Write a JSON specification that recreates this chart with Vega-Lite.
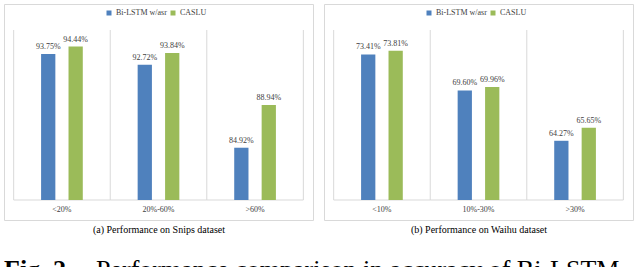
{
  "$schema": "https://vega.github.io/schema/vega-lite/v6.json",
  "padding": {"left": 3, "top": 3, "right": 0, "bottom": 0},
  "background": "white",
  "datasets": {
    "snips": [
      {"cat": "<20%", "series": "Bi-LSTM w/asr", "value": 0.9375},
      {"cat": "<20%", "series": "CASLU", "value": 0.9444},
      {"cat": "20%-60%", "series": "Bi-LSTM w/asr", "value": 0.9272},
      {"cat": "20%-60%", "series": "CASLU", "value": 0.9384},
      {"cat": ">60%", "series": "Bi-LSTM w/asr", "value": 0.8492},
      {"cat": ">60%", "series": "CASLU", "value": 0.8894}
    ],
    "waihu": [
      {"cat": "<10%", "series": "Bi-LSTM w/asr", "value": 0.7341},
      {"cat": "<10%", "series": "CASLU", "value": 0.7381},
      {"cat": "10%-30%", "series": "Bi-LSTM w/asr", "value": 0.6960},
      {"cat": "10%-30%", "series": "CASLU", "value": 0.6996},
      {"cat": ">30%", "series": "Bi-LSTM w/asr", "value": 0.6427},
      {"cat": ">30%", "series": "CASLU", "value": 0.6565}
    ]
  },
  "spacing": 11,
  "bounds": "flush",
  "resolve": {"legend": {"color": "independent"}},
  "hconcat": [
    {
      "width": 309,
      "height": 216,
      "data": {"name": "snips"},
      "title": {"text": "Fig. 2.", "orient": "bottom", "anchor": "start", "fontSize": 26, "fontWeight": "bold", "font": "Liberation Serif", "color": "#000000", "offset": 23},
      "layer": [
        {
          "mark": {"type": "rule", "color": "#D9D9D9", "strokeWidth": 1},
          "transform": [{"filter": "datum.series == 'CASLU'"}],
          "encoding": {
            "x": {"field": "cat", "type": "nominal", "bandPosition": 0,
              "scale": {"domain": ["<20%", "20%-60%", ">60%"], "paddingInner": 0, "paddingOuter": 0.1},
              "axis": {"orient": "bottom", "offset": -20, "domain": false, "ticks": false, "grid": false, "labelAngle": 0,
                "labelFont": "Liberation Serif", "labelFontSize": 8, "labelColor": "#404040", "labelPadding": 5,
                "title": "(a) Performance on Snips dataset", "titleFont": "Liberation Serif", "titleFontSize": 10,
                "titleFontWeight": "normal", "titleColor": "#000000", "titlePadding": 11}},
            "y": {"datum": 0.96, "type": "quantitative", "scale": {"domain": [0.80, 0.96], "range": [196, 26], "zero": false, "nice": false}, "axis": null},
            "y2": {"datum": 0.80}
          }
        },
        {
          "mark": {"type": "rule", "color": "#D9D9D9", "strokeWidth": 1},
          "transform": [{"filter": "datum.series == 'CASLU' && datum.cat == '>60%'"}],
          "encoding": {
            "x": {"field": "cat", "type": "nominal", "bandPosition": 1},
            "y": {"datum": 0.96, "type": "quantitative"},
            "y2": {"datum": 0.80}
          }
        },
        {
          "mark": {"type": "rule", "color": "#D9D9D9", "strokeWidth": 1},
          "transform": [{"filter": "datum.series == 'CASLU'"}],
          "encoding": {
            "x": {"field": "cat", "type": "nominal", "bandPosition": 0},
            "x2": {"field": "cat", "bandPosition": 1},
            "y": {"datum": 0.80, "type": "quantitative"}
          }
        },
        {
          "mark": {"type": "bar"},
          "encoding": {
            "x": {"field": "cat", "type": "nominal"},
            "xOffset": {"field": "series", "type": "nominal", "scale": {"domain": ["Bi-LSTM w/asr", "CASLU"], "paddingInner": 0.48, "paddingOuter": 1.172}},
            "y": {"field": "value", "type": "quantitative"},
            "y2": {"datum": 0.80},
            "color": {"field": "series", "type": "nominal",
              "scale": {"domain": ["Bi-LSTM w/asr", "CASLU"], "range": ["#4F81BD", "#9BBB59"]},
              "legend": {"orient": "none", "legendX": 101, "legendY": 5, "direction": "horizontal", "title": null,
                "symbolType": "square", "symbolSize": 25, "symbolStrokeWidth": 0, "labelFont": "Liberation Serif", "labelFontSize": 8,
                "labelColor": "#404040", "labelOffset": 3, "columnPadding": 2, "padding": 0}}
          }
        },
        {
          "mark": {"type": "text", "baseline": "bottom", "dy": -3, "font": "Liberation Serif", "fontSize": 8, "color": "#404040"},
          "encoding": {
            "x": {"field": "cat", "type": "nominal"},
            "xOffset": {"field": "series", "type": "nominal"},
            "y": {"field": "value", "type": "quantitative"},
            "text": {"field": "value", "type": "quantitative", "format": ".2%"}
          }
        }
      ]
    },
    {
      "width": 309,
      "height": 216,
      "data": {"name": "waihu"},
      "title": {"text": "Performance comparison in accuracy of Bi-LSTM", "orient": "bottom", "anchor": "start", "dx": -228, "fontSize": 26, "fontWeight": "normal", "font": "Liberation Serif", "color": "#000000", "offset": 23},
      "layer": [
        {
          "mark": {"type": "rule", "color": "#D9D9D9", "strokeWidth": 1},
          "transform": [{"filter": "datum.series == 'CASLU'"}],
          "encoding": {
            "x": {"field": "cat", "type": "nominal", "bandPosition": 0,
              "scale": {"domain": ["<10%", "10%-30%", ">30%"], "paddingInner": 0, "paddingOuter": 0.1},
              "axis": {"orient": "bottom", "offset": -20, "domain": false, "ticks": false, "grid": false, "labelAngle": 0,
                "labelFont": "Liberation Serif", "labelFontSize": 8, "labelColor": "#404040", "labelPadding": 5,
                "title": "(b) Performance on Waihu dataset", "titleFont": "Liberation Serif", "titleFontSize": 10,
                "titleFontWeight": "normal", "titleColor": "#000000", "titlePadding": 11}},
            "y": {"datum": 0.76, "type": "quantitative", "scale": {"domain": [0.58, 0.76], "range": [196, 26], "zero": false, "nice": false}, "axis": null},
            "y2": {"datum": 0.58}
          }
        },
        {
          "mark": {"type": "rule", "color": "#D9D9D9", "strokeWidth": 1},
          "transform": [{"filter": "datum.series == 'CASLU' && datum.cat == '>30%'"}],
          "encoding": {
            "x": {"field": "cat", "type": "nominal", "bandPosition": 1},
            "y": {"datum": 0.76, "type": "quantitative"},
            "y2": {"datum": 0.58}
          }
        },
        {
          "mark": {"type": "rule", "color": "#D9D9D9", "strokeWidth": 1},
          "transform": [{"filter": "datum.series == 'CASLU'"}],
          "encoding": {
            "x": {"field": "cat", "type": "nominal", "bandPosition": 0},
            "x2": {"field": "cat", "bandPosition": 1},
            "y": {"datum": 0.58, "type": "quantitative"}
          }
        },
        {
          "mark": {"type": "bar"},
          "encoding": {
            "x": {"field": "cat", "type": "nominal"},
            "xOffset": {"field": "series", "type": "nominal", "scale": {"domain": ["Bi-LSTM w/asr", "CASLU"], "paddingInner": 0.48, "paddingOuter": 1.172}},
            "y": {"field": "value", "type": "quantitative"},
            "y2": {"datum": 0.58},
            "color": {"field": "series", "type": "nominal",
              "scale": {"domain": ["Bi-LSTM w/asr", "CASLU"], "range": ["#4F81BD", "#9BBB59"]},
              "legend": {"orient": "none", "legendX": 101, "legendY": 5, "direction": "horizontal", "title": null,
                "symbolType": "square", "symbolSize": 25, "symbolStrokeWidth": 0, "labelFont": "Liberation Serif", "labelFontSize": 8,
                "labelColor": "#404040", "labelOffset": 3, "columnPadding": 2, "padding": 0}}
          }
        },
        {
          "mark": {"type": "text", "baseline": "bottom", "dy": -3, "font": "Liberation Serif", "fontSize": 8, "color": "#404040"},
          "encoding": {
            "x": {"field": "cat", "type": "nominal"},
            "xOffset": {"field": "series", "type": "nominal"},
            "y": {"field": "value", "type": "quantitative"},
            "text": {"field": "value", "type": "quantitative", "format": ".2%"}
          }
        }
      ]
    }
  ],
  "config": {
    "view": {"stroke": "#D9D9D9"},
    "font": "Liberation Serif"
  }
}
